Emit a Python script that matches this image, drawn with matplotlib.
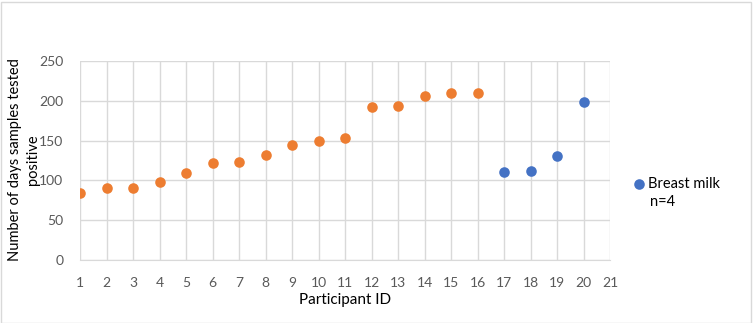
import matplotlib
matplotlib.use("Agg")
import matplotlib.pyplot as plt
from matplotlib.patches import Rectangle

plt.rcParams['font.family'] = ['Lato', 'DejaVu Sans']

ids_other = [1, 2, 3, 4, 5, 6, 7, 8, 9, 10, 11, 12, 13, 14, 15, 16]
days_other = [84, 91, 91, 98, 109, 122, 123, 132, 145, 149, 153, 192, 193, 206, 210, 210]
ids_milk = [17, 18, 19, 20]
days_milk = [111, 112, 131, 199]
x_ticks = list(range(1, 22))
y_ticks = [0, 50, 100, 150, 200, 250]

fig = plt.figure(figsize=(7.53, 3.23), dpi=100)
W, H = 753, 323
ax = fig.add_axes([80 / W, 1 - 260 / H, 530 / W, 199 / H])

ax.scatter(ids_other, days_other, s=58, color='#ED7D31', zorder=3, linewidths=0)
ax.scatter(ids_milk, days_milk, s=58, color='#4472C4', zorder=3, linewidths=0,
           label='Breast milk')

ax.set_xlim(1, 21)
ax.set_ylim(0, 250)
ax.set_xticks(x_ticks)
ax.set_yticks(y_ticks)
ax.grid(True, color='#d9d9d9', linewidth=1)
ax.set_axisbelow(True)
for s in ['top', 'right', 'left']:
    ax.spines[s].set_visible(False)
ax.spines['bottom'].set_color('#d9d9d9')
ax.tick_params(length=0, labelsize=10, colors='#595959')
ax.tick_params(axis='x', pad=12)
ax.tick_params(axis='y', pad=12)

ax.set_xlabel('Participant ID', fontsize=11, color='#000000', labelpad=3)
fig.text(24 / W, 1 - 160 / H, 'Number of days samples tested\npositive', fontsize=10.5,
         color='#000000', rotation=90, ha='center', va='center',
         multialignment='center', linespacing=1.35)

leg = ax.legend(loc='center left', bbox_to_anchor=(630 / W, 1 - 184 / H),
                bbox_transform=fig.transFigure, frameon=False, fontsize=10.5,
                handletextpad=0.0, markerscale=1.0, borderaxespad=0,
                borderpad=0, handlelength=1.2)
fig.text(650 / W, 1 - 202 / H, 'n=4', fontsize=10.5, va='center', ha='left', color='#000000')

fig.patches.append(Rectangle((0.5 / W, 0.5 / H), 750 / W, 321 / H, transform=fig.transFigure,
                             fill=False, edgecolor='#d9d9d9', linewidth=1))

fig.savefig('out.png', dpi=100)
